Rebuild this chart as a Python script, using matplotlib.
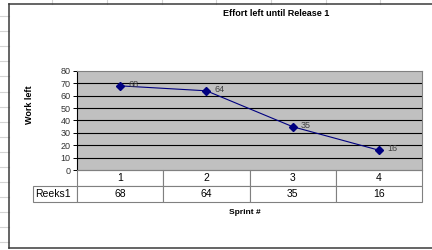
import matplotlib.pyplot as plt
from matplotlib.lines import Line2D
from matplotlib.table import Table

plt.rcParams['font.family'] = ['Liberation Sans', 'DejaVu Sans']

# data
sprints = ["1", "2", "3", "4"]
work_left = [68, 64, 35, 16]
series_name = "Reeks1"
yticks = [0, 10, 20, 30, 40, 50, 60, 70, 80]

W, H = 432, 250
fig = plt.figure(figsize=(W / 100, H / 100), dpi=100)
fig.patch.set_facecolor("white")

def fx(px):
    return px / W

def fy(py):
    return 1 - py / H

# spreadsheet gridlines peeking around the chart object
grid_c = "#d4d4d4"
for x in [52, 107, 162, 216, 271, 326, 380]:
    fig.add_artist(Line2D([fx(x), fx(x)], [fy(0), fy(4)], color=grid_c, lw=0.8))
y = 16
while y < 250:
    fig.add_artist(Line2D([fx(0), fx(9)], [fy(y), fy(y)], color=grid_c, lw=0.8))
    y += 15.1

# chart frame
frame_c = "#3a3a3a"
fig.add_artist(Line2D([fx(9), fx(9)], [fy(4), fy(248)], color=frame_c, lw=1.1))
fig.add_artist(Line2D([fx(9), fx(432)], [fy(4), fy(4)], color=frame_c, lw=1.1))
fig.add_artist(Line2D([fx(9), fx(432)], [fy(248), fy(248)], color=frame_c, lw=1.1))

# plot area
pl, pt, pr, pb = 77, 71, 422, 170
ax = fig.add_axes([fx(pl), fy(pb), fx(pr - pl), (pb - pt) / H])
ax.set_facecolor("#c0c0c0")
x = list(range(len(sprints)))
ax.set_xlim(-0.5, len(sprints) - 0.5)
ax.set_ylim(0, 80)
ax.set_yticks(yticks)
ax.set_yticklabels([str(t) for t in yticks], fontsize=6.5, color="#333333")
ax.set_xticks([])
for t in yticks[1:-1]:
    ax.axhline(t, color="black", lw=0.8, zorder=1)
for s in ["top", "right", "bottom"]:
    ax.spines[s].set_color("#808080")
    ax.spines[s].set_linewidth(0.8)
ax.spines["left"].set_color("black")
ax.spines["left"].set_linewidth(0.8)
ax.tick_params(axis="y", length=3, width=0.7, pad=1.5)

ax.plot(x, work_left, color="#000080", lw=0.8, marker="D", markersize=3.8,
        zorder=3)
for xi, v in zip(x, work_left):
    ax.annotate(str(v), (xi, v), xytext=(6, 1), textcoords="offset points",
                ha="left", va="center", fontsize=6.5, color="#404040")

# data table below the plot
row_w = 44 / (pr - pl)
tbl_h = 31.5 / (pb - pt)
tbl = Table(ax, bbox=[0, -tbl_h, 1, tbl_h])
for c, s in enumerate(sprints):
    tbl.add_cell(0, c, width=0.25, height=0.5, text=s, loc="center",
                 facecolor="white", edgecolor="#808080")
tbl.add_cell(1, -1, width=row_w, height=0.5, text=series_name, loc="left",
             facecolor="white", edgecolor="#808080")
for c, v in enumerate(work_left):
    tbl.add_cell(1, c, width=0.25, height=0.5, text=str(v), loc="center",
                 facecolor="white", edgecolor="#808080")
tbl.auto_set_font_size(False)
tbl.set_fontsize(7.5)
for (r, c), cell in tbl.get_celld().items():
    cell.set_linewidth(0.8)
    if c == -1:
        cell.PAD = 0.04
ax.add_table(tbl)

ax.set_ylabel("Work left", fontsize=6.5, fontweight="bold")
ax.yaxis.set_label_coords((34 - pl) / (pr - pl), (pb - 105) / (pb - pt))

fig.text(fx(276), fy(13), "Effort left until Release 1", ha="center",
         va="center", fontsize=6.5, fontweight="bold")
fig.text(fx(245), fy(212), "Sprint #", ha="center", va="center",
         fontsize=6, fontweight="bold")

fig.savefig("out.png", dpi=100)
